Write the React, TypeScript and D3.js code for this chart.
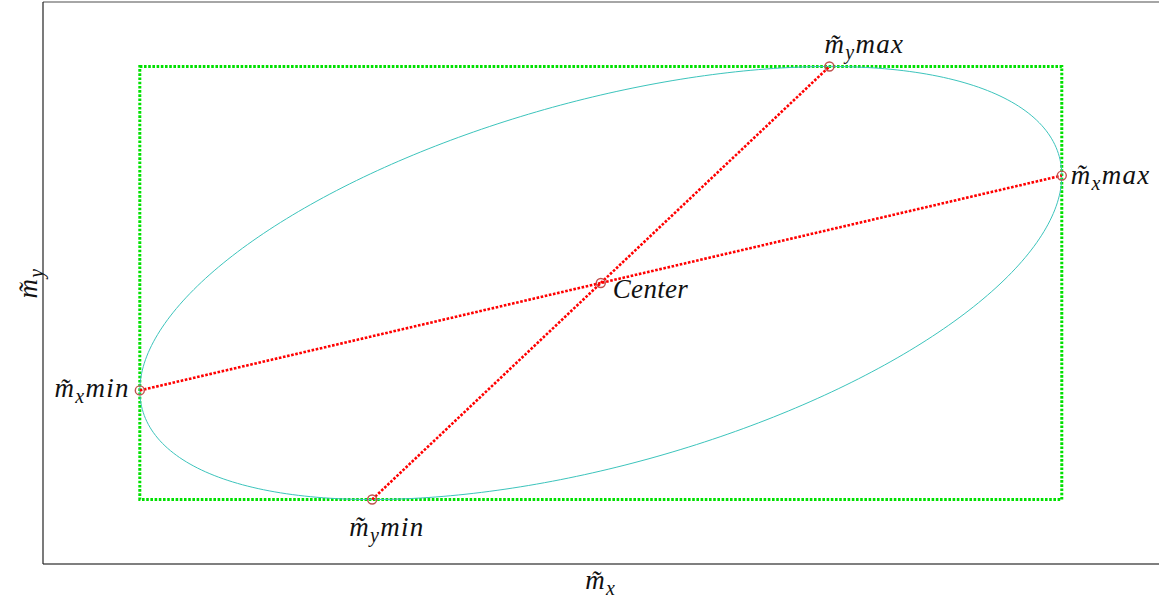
import React from "react";
import * as d3 from "d3";

// Data-space extent of the axes
const xExtent: [number, number] = [-6.05, 6.05];
const yExtent: [number, number] = [-3.05, 3.05];

// Ellipse: centre and second moments
const center: [number, number] = [0, 0];
const varX = 25; // sigma_x^2
const varY = 5.5225; // sigma_y^2
const covXY = 5.83;

// Extreme points of the ellipse
const pointNames = ["mxmin", "mxmax", "mymin", "mymax", "center"];
const pointX = [-5, 5, -2.48, 2.48, 0];
const pointY = [-1.166, 1.166, -2.35, 2.35, 0];

// Label text pieces: subscript, suffix
const labelSub = ["x", "x", "y", "y", ""];
const labelSuffix = ["min", "max", "min", "max", "Center"];

const W = 1159;
const H = 602;
const plotLeft = 43;
const plotRight = 1158.6;
const plotTop = 2;
const plotBottom = 564;

const labelLayout: Record<string, { dx: number; dy: number; anchor: string }> = {
  mxmin: { dx: -10, dy: 7, anchor: "end" },
  mxmax: { dx: 9, dy: 8, anchor: "start" },
  mymin: { dx: -23, dy: 36, anchor: "start" },
  mymax: { dx: -5, dy: -13, anchor: "start" },
  center: { dx: 12, dy: 15, anchor: "start" },
};

const mathFont = "'Liberation Serif', 'DejaVu Serif', serif";

function MathLabel({ sub, suffix, x, y, anchor, size = 27 }: any) {
  return (
    <text
      x={x}
      y={y}
      textAnchor={anchor}
      fontFamily={mathFont}
      fontStyle="italic"
      fontSize={size}
      fill="#111"
      letterSpacing={sub ? 1.3 : 0.3}
    >
      {sub ? (
        <>
          <tspan>{"m\u0303"}</tspan>
          <tspan fontSize={size * 0.74} dy={6}>
            {sub}
          </tspan>
          <tspan dy={-6}>{suffix}</tspan>
        </>
      ) : (
        <tspan>{suffix}</tspan>
      )}
    </text>
  );
}

export default function App() {
  const x = d3.scaleLinear().domain(xExtent).range([plotLeft, plotRight]);
  const y = d3.scaleLinear().domain(yExtent).range([plotBottom, plotTop]);

  // Ellipse outline from the second moments (Cholesky form)
  const sx = Math.sqrt(varX);
  const a21 = covXY / sx;
  const a22 = Math.sqrt(varY - a21 * a21);
  const ts = d3.range(0, 361, 1).map((d) => (d * Math.PI) / 180);
  const ellipsePts: [number, number][] = ts.map((t) => [
    center[0] + sx * Math.cos(t),
    center[1] + a21 * Math.cos(t) + a22 * Math.sin(t),
  ]);
  const line = d3
    .line<[number, number]>()
    .x((d) => x(d[0]))
    .y((d) => y(d[1]));

  const idx = (n: string) => pointNames.indexOf(n);
  const P = (n: string) => [x(pointX[idx(n)]), y(pointY[idx(n)])];

  const bx0 = x(pointX[idx("mxmin")]);
  const bx1 = x(pointX[idx("mxmax")]);
  const by0 = y(pointY[idx("mymax")]);
  const by1 = y(pointY[idx("mymin")]);

  const dotDash = "2.6,1.6";

  return (
    <svg
      width={W}
      height={H}
      style={{ position: "absolute", left: 0, top: 0, background: "#fff" }}
    >
      {/* axes frame */}
      <line x1={plotLeft} x2={W + 2} y1={plotTop} y2={plotTop} stroke="#888" strokeWidth={1.5} />
      <line x1={plotLeft} x2={W + 2} y1={plotBottom} y2={plotBottom} stroke="#555" strokeWidth={1.5} />
      <line x1={plotLeft} x2={plotLeft} y1={plotTop} y2={plotBottom} stroke="#222" strokeWidth={1.2} />

      {/* bounding box */}
      <rect
        x={bx0}
        y={by0}
        width={bx1 - bx0}
        height={by1 - by0}
        fill="none"
        stroke="#00e000"
        strokeWidth={3}
        strokeDasharray={dotDash}
      />

      {/* ellipse */}
      <path d={line(ellipsePts) || ""} fill="none" stroke="#3cc4bc" strokeWidth={1} />

      {/* axes through extremes */}
      <line
        x1={P("mxmin")[0]}
        y1={P("mxmin")[1]}
        x2={P("mxmax")[0]}
        y2={P("mxmax")[1]}
        stroke="#ff0000"
        strokeWidth={2.6}
        strokeDasharray={dotDash}
      />
      <line
        x1={P("mymin")[0]}
        y1={P("mymin")[1]}
        x2={P("mymax")[0]}
        y2={P("mymax")[1]}
        stroke="#ff0000"
        strokeWidth={2.6}
        strokeDasharray={dotDash}
      />

      {/* markers */}
      {pointNames.map((n) => (
        <circle
          key={n}
          cx={P(n)[0]}
          cy={P(n)[1]}
          r={4.5}
          fill="none"
          stroke="#c0504d"
          strokeWidth={1.4}
        />
      ))}

      {/* point labels */}
      {pointNames.map((n, i) => {
        const l = labelLayout[n];
        return (
          <MathLabel
            key={n}
            sub={labelSub[i]}
            suffix={labelSuffix[i]}
            x={P(n)[0] + l.dx}
            y={P(n)[1] + l.dy}
            anchor={l.anchor}
          />
        );
      })}

      {/* axis titles */}
      <MathLabel sub="x" suffix="" x={(plotLeft + plotRight) / 2} y={589} anchor="middle" />
      <g transform={`translate(37, ${(plotTop + plotBottom) / 2}) rotate(-90)`}>
        <MathLabel sub="y" suffix="" x={0} y={0} anchor="middle" />
      </g>
    </svg>
  );
}
